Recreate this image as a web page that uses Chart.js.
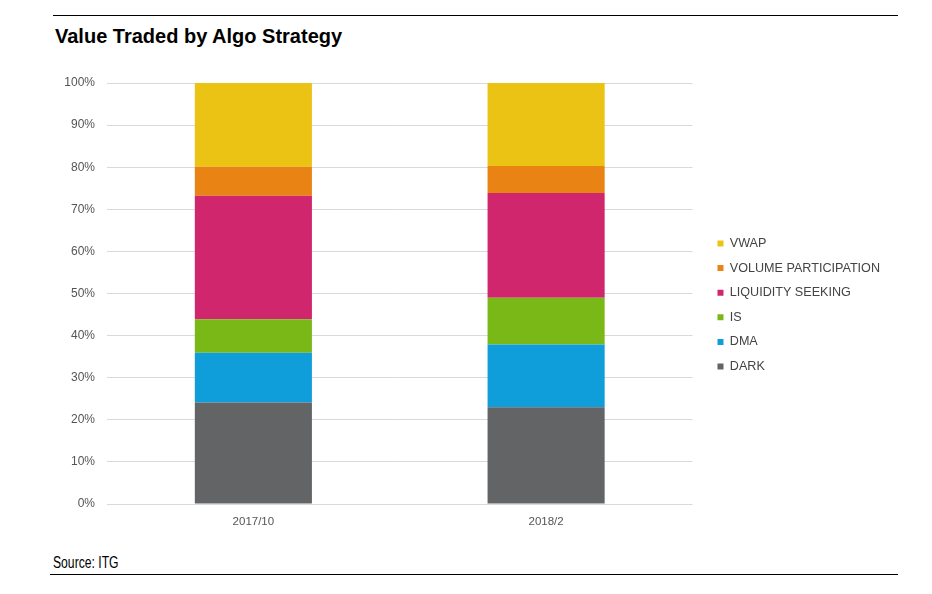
<!DOCTYPE html>
<html lang="en">
<head>
  <meta charset="UTF-8">
  <title>Value Traded by Algo Strategy</title>
  <script src="https://cdn.jsdelivr.net/npm/chart.js"></script>
  <style>
    body { margin: 0; background: #fff; font-family: "Liberation Sans", Arial, sans-serif; }
    #page { position: relative; width: 932px; height: 594px; }
    #topLine { position: absolute; left: 53px; top: 15px; width: 845px; border-top: 1px solid #000; }
    #title { position: absolute; left: 55px; top: 25px; font-size: 20px; font-weight: bold; color: #000; }
    #wrap { position: absolute; left: 0; top: 60px; width: 900px; height: 480px; }
    #source { position: absolute; left: 53px; top: 554px; font-size: 16px; color: #000;
              transform: scaleX(0.76); transform-origin: left top; }
    #bottomLine { position: absolute; left: 50px; top: 574px; width: 848px; border-top: 1px solid #000; }
  </style>
</head>
<body>
<div id="page">
  <div id="topLine"></div>
  <div id="title">Value Traded by Algo Strategy</div>
  <div id="wrap"><canvas id="chart"></canvas></div>
  <div id="source">Source: ITG</div>
  <div id="bottomLine"></div>
</div>
<script>
  // 期間
  const periods = ['2017/10', '2018/2'];

  // 各戦略の比率 (%)
  const dark = [24.1, 23.0];
  const dma = [11.8, 14.9];
  const is = [8.0, 11.1];
  const liquiditySeeking = [29.3, 24.9];
  const volumeParticipation = [6.9, 6.4];
  const vwap = [19.9, 19.7];

  const yTicks = [0, 10, 20, 30, 40, 50, 60, 70, 80, 90, 100];

  const series = [
    { label: 'DARK', data: dark, color: '#636466' },
    { label: 'DMA', data: dma, color: '#109edb' },
    { label: 'IS', data: is, color: '#7ab817' },
    { label: 'LIQUIDITY SEEKING', data: liquiditySeeking, color: '#d0266e' },
    { label: 'VOLUME PARTICIPATION', data: volumeParticipation, color: '#e88314' },
    { label: 'VWAP', data: vwap, color: '#ebc314' }
  ];

  Chart.defaults.font.family = '"Liberation Sans", Arial, sans-serif';

  const ctx = document.getElementById('chart').getContext('2d');
  new Chart(ctx, {
    type: 'bar',
    data: {
      labels: periods,
      datasets: series.map(s => ({
        label: s.label,
        data: s.data,
        backgroundColor: s.color,
        borderWidth: 0,
        barPercentage: 0.4,
        categoryPercentage: 1.0
      }))
    },
    options: {
      responsive: true,
      maintainAspectRatio: false,
      animation: false,
      layout: { padding: { left: 40, right: 10, top: 23, bottom: 13 } },
      plugins: {
        tooltip: { enabled: false },
        legend: {
          position: 'right',
          reverse: true,
          maxWidth: 220,
          labels: {
            boxWidth: 6,
            boxHeight: 6,
            padding: 12,
            color: '#444',
            font: { size: 12.6 }
          }
        }
      },
      scales: {
        x: {
          stacked: true,
          afterFit: scale => { scale.height = 23; },
          grid: { display: false, drawTicks: false },
          border: { display: false },
          ticks: { color: '#555', padding: 11, font: { size: 11.5 } }
        },
        y: {
          stacked: true,
          min: 0,
          max: 100,
          afterFit: scale => { scale.width = 67; },
          afterBuildTicks: scale => { scale.ticks = yTicks.map(v => ({ value: v })); },
          grid: { color: '#d9d9d9', lineWidth: 1, drawTicks: false },
          border: { display: false },
          ticks: {
            color: '#555',
            font: { size: 12 },
            padding: 12,
            callback: v => v + '%'
          }
        },
        // 凡例との間隔用（非表示）
        gap: {
          axis: 'y',
          position: 'right',
          min: 0,
          max: 100,
          afterFit: scale => { scale.width = 13; },
          grid: { display: false, drawTicks: false },
          border: { display: false },
          ticks: { display: false }
        }
      }
    }
  });
</script>
</body>
</html>
